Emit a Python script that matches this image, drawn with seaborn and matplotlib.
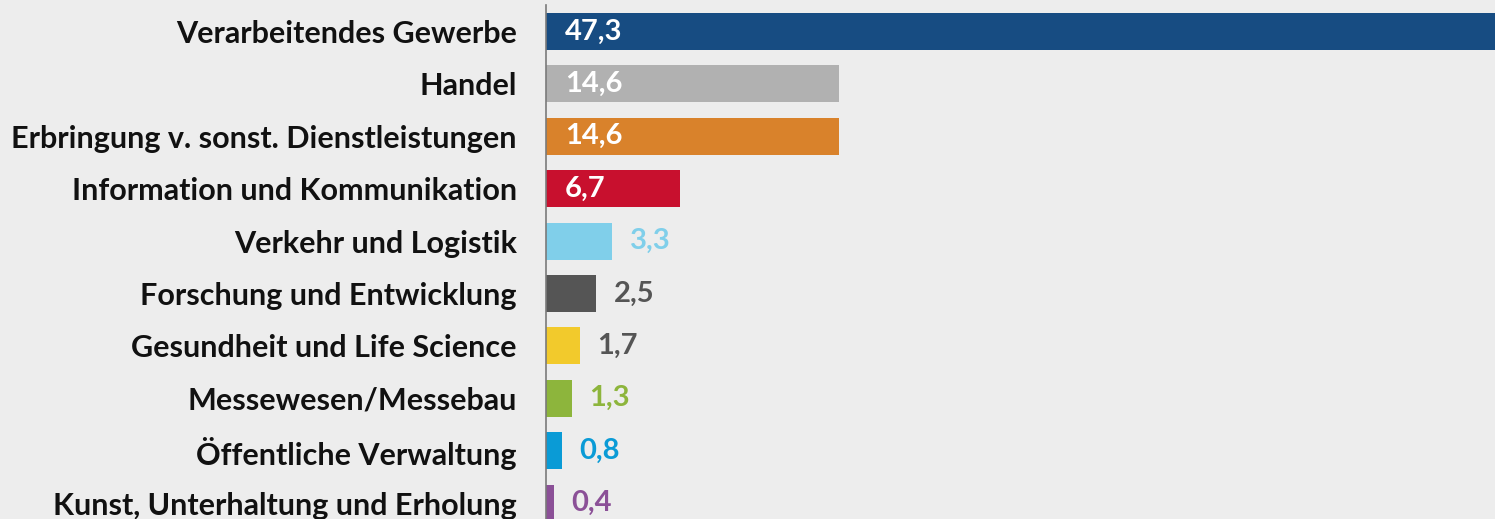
import matplotlib
matplotlib.use("Agg")
import matplotlib.pyplot as plt
import seaborn as sns
import pandas as pd

categories = [
    "Verarbeitendes Gewerbe",
    "Handel",
    "Erbringung v. sonst. Dienstleistungen",
    "Information und Kommunikation",
    "Verkehr und Logistik",
    "Forschung und Entwicklung",
    "Gesundheit und Life Science",
    "Messewesen/Messebau",
    "Öffentliche Verwaltung",
    "Kunst, Unterhaltung und Erholung",
]
values = [47.3, 14.6, 14.6, 6.7, 3.3, 2.5, 1.7, 1.3, 0.8, 0.4]
value_labels = ["47,3", "14,6", "14,6", "6,7", "3,3", "2,5", "1,7", "1,3", "0,8", "0,4"]
bar_colors = ["#174c82", "#b1b1b1", "#d9822b", "#c8102e", "#80cfea",
              "#555555", "#f2ca2c", "#8db53c", "#0a9bd6", "#8b5097"]
label_colors = ["white", "white", "white", "white", "#80cfea",
                "#555555", "#555555", "#8db53c", "#0a9bd6", "#8b5097"]
inside = [True, True, True, True, False, False, False, False, False, False]

BG = "#ededed"
sns.set_theme(style="white")
plt.rcParams["font.family"] = ["Lato", "DejaVu Sans"]

df = pd.DataFrame({"cat": categories, "val": values})

fig = plt.figure(figsize=(14.95, 5.19), dpi=100, facecolor=BG)
left = 546 / 1495
ax = fig.add_axes([left, 0, 1 - left, 1])
ax.set_facecolor(BG)

sns.barplot(data=df, y="cat", x="val", hue="cat", palette=bar_colors,
            orient="h", width=0.706, legend=False, ax=ax, saturation=1,
            linewidth=0)

ax.set_xlim(0, 47.3)
ax.set_ylim(9.303, -0.601)
ax.set_xlabel("")
ax.set_ylabel("")
ax.set_xticks([])
for s in ["top", "right", "bottom"]:
    ax.spines[s].set_visible(False)
ax.spines["left"].set_color("#7a7a7a")
ax.spines["left"].set_linewidth(1.2)
ax.spines["left"].set_bounds(-0.505, 9.303)

ax.tick_params(axis="y", length=0, pad=21)
for t in ax.get_yticklabels():
    t.set_fontsize(22)
    t.set_fontweight("bold")
    t.set_color("#111111")

for i, (v, lab, c, ins) in enumerate(zip(values, value_labels, label_colors, inside)):
    if ins:
        ax.annotate(lab, xy=(0, i), xytext=(13.5, 0), textcoords="offset points",
                    ha="left", va="center", color=c, fontsize=21, fontweight="bold")
    else:
        ax.annotate(lab, xy=(v, i), xytext=(12.5, 0), textcoords="offset points",
                    ha="left", va="center", color=c, fontsize=21, fontweight="bold")

fig.savefig("out.png", dpi=100, facecolor=BG)
